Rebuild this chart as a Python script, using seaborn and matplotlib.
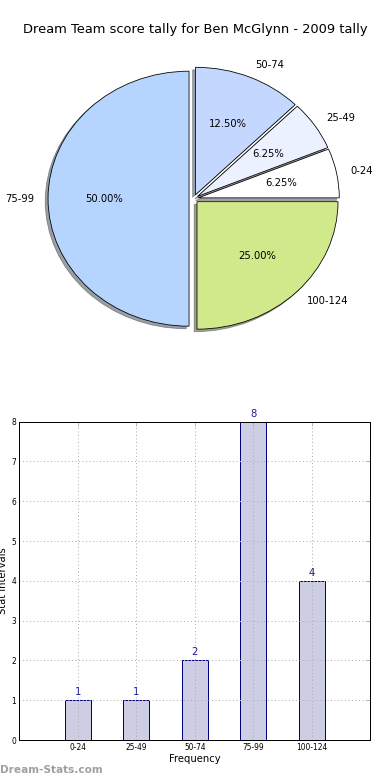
import matplotlib
matplotlib.use("Agg")
import matplotlib.pyplot as plt
import seaborn as sns
import pandas as pd

# ---- data ----
categories = ["0-24", "25-49", "50-74", "75-99", "100-124"]
counts = [1, 1, 2, 8, 4]
pie_colors = ["#ffffff", "#ebf1ff", "#c4d8ff", "#b5d5ff", "#d0ea8b"]
title = "Dream Team score tally for Ben McGlynn - 2009 tally"
yticks = [0, 1, 2, 3, 4, 5, 6, 7, 8]

sns.set_style("white")
plt.rcParams["font.family"] = ["DejaVu Sans"]
plt.rcParams["text.color"] = "black"
plt.rcParams["axes.labelcolor"] = "black"

W, H, DPI = 390, 780, 72
fig = plt.figure(figsize=(W / DPI, H / DPI), dpi=DPI)

# ---- pie ----
cx, cy = 193.7, 198.7      # pixel centre (from top)
rx, ry = 141.0, 127.5      # pixel radii (elliptical, old mpl look)
top_px, bot_px = 45, 355
axp = fig.add_axes([0, 1 - bot_px / H, 1, (bot_px - top_px) / H])
wedges, texts, autotexts = axp.pie(
    counts, labels=categories, colors=pie_colors, autopct="%.2f%%",
    explode=[0.033] * len(counts), shadow=True, startangle=0,
    labeldistance=1.1, pctdistance=0.6,
    wedgeprops=dict(edgecolor="black", linewidth=0.8),
    textprops=dict(fontsize=10, color="black"),
)
axp.set_aspect("auto")
axp.set_xlim(-cx / rx, (W - cx) / rx)
axp.set_ylim(-(bot_px - cy) / ry, (cy - top_px) / ry)
axp.axis("off")

fig.text(0.5, 1 - 30 / H, title, ha="center", va="center", fontsize=13,
         color="black")

# ---- bars ----
left, right, btop, bbot = 19.3, 370.3, 421.7, 740
axb = fig.add_axes([left / W, 1 - bbot / H, (right - left) / W, (bbot - btop) / H])
df = pd.DataFrame({"cat": categories, "count": counts})
sns.barplot(data=df, x="cat", y="count", order=categories, ax=axb,
            width=0.45, color="#cdcde4", saturation=1,
            edgecolor="#000080", linewidth=1.0)
for p in axb.patches:
    p.set_edgecolor("#000080")
for i, v in enumerate(counts):
    axb.annotate(str(v), (i, v), xytext=(0, 3), textcoords="offset points",
                 ha="center", va="bottom", fontsize=10, color="#1c1c99")
axb.set_xlim(-1, 5)
axb.set_ylim(0, 8)
axb.set_yticks(yticks)
axb.grid(True, linestyle=(0, (1, 2.5)), color="#b0b0b0", linewidth=1.0)
axb.set_axisbelow(False)
for s in axb.spines.values():
    s.set_visible(True)
    s.set_color("black")
    s.set_linewidth(1.0)
    s.set_zorder(10)
axb.tick_params(axis="both", direction="in", length=4, color="#aaaaaa",
                labelsize=7.5, pad=3, top=True, right=True, labelcolor="black")
axb.set_xlabel("Frequency", fontsize=10, labelpad=2)
axb.set_ylabel("Stat Intervals", fontsize=10)
axb.yaxis.label.set_va("center")
axb.yaxis.set_label_coords(-0.046, 0.5)

fig.text(0, 1 - 770 / H, "Dream-Stats.com", ha="left", va="center",
         fontsize=10.5, fontweight="bold", color="#a0a0a0")

fig.savefig("out.png", dpi=DPI)
